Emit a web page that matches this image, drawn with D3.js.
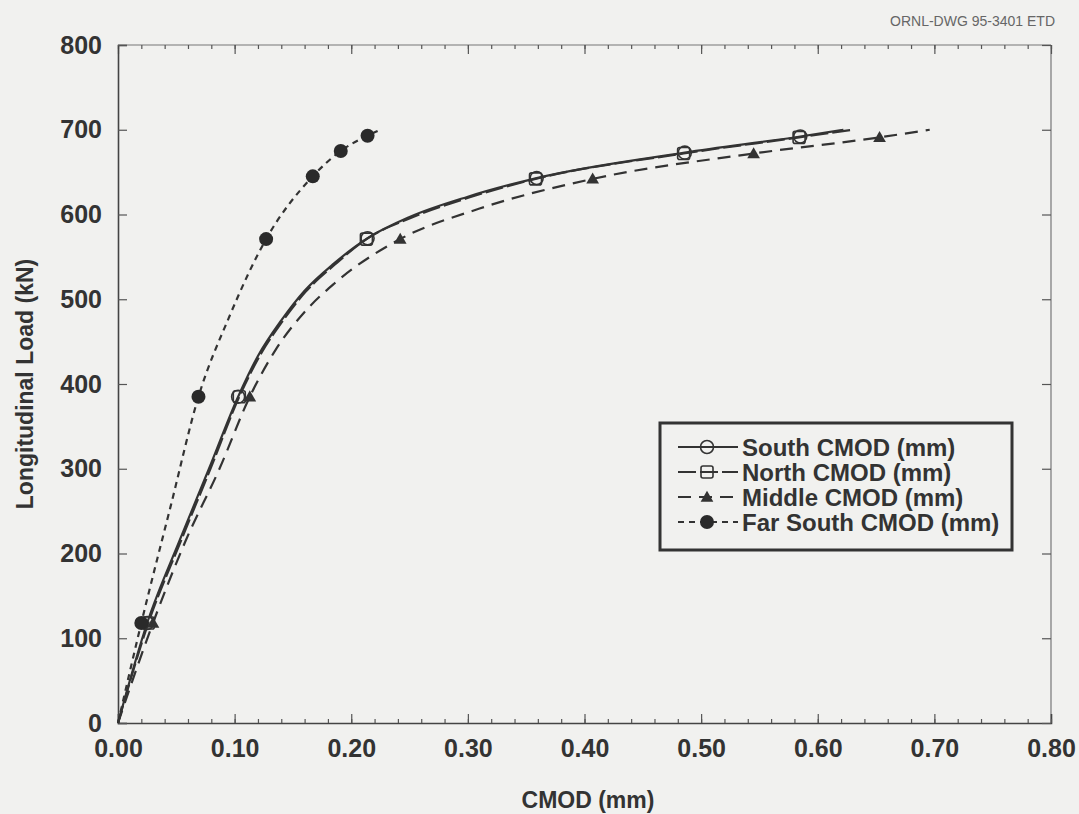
<!DOCTYPE html>
<html>
<head>
<meta charset="utf-8">
<script src="https://cdn.jsdelivr.net/npm/d3@7"></script>
<style>
  body { margin: 0; background: #f1f1ef; }
  svg { display: block; font-family: "Liberation Sans", Arial, sans-serif; }
</style>
</head>
<body>
<div id="chart"></div>
<script>
// marker points: CMOD (mm) vs load (kN)
const southX = [0.025, 0.103, 0.214, 0.359, 0.486, 0.585];
const southY = [118, 385, 572, 643, 673, 692];
const northX = [0.026, 0.104, 0.213, 0.358, 0.485, 0.584];
const northY = [118, 385, 571, 642, 672, 691];
const middleX = [0.030, 0.113, 0.242, 0.407, 0.545, 0.653];
const middleY = [118, 385, 571, 642, 672, 691];
const farSouthX = [0.020, 0.069, 0.127, 0.167, 0.191, 0.214];
const farSouthY = [118, 385, 571, 645, 675, 693];

// the fitted curves (origin to where each line stops)
const southCurveX = [0, 0.025, 0.053, 0.078, 0.103, 0.120, 0.140, 0.160, 0.185, 0.214, 0.250, 0.300, 0.359, 0.486, 0.585, 0.622];
const southCurveY = [0, 118, 216, 300, 385, 433, 475, 510, 542, 572, 597, 621, 643, 673, 692, 700];
const northCurveX = [0, 0.026, 0.054, 0.079, 0.104, 0.121, 0.141, 0.161, 0.186, 0.213, 0.251, 0.301, 0.358, 0.485, 0.584, 0.630];
const northCurveY = [0, 118, 215, 299, 385, 432, 474, 509, 541, 571, 596, 620, 642, 672, 691, 700];
const middleCurveX = [0, 0.030, 0.058, 0.087, 0.113, 0.135, 0.160, 0.185, 0.242, 0.310, 0.407, 0.545, 0.653, 0.696];
const middleCurveY = [0, 118, 215, 300, 385, 440, 485, 518, 571, 607, 642, 672, 691, 700];
const farSouthCurveX = [0, 0.020, 0.045, 0.069, 0.095, 0.127, 0.167, 0.191, 0.214, 0.225];
const farSouthCurveY = [0, 118, 255, 385, 478, 571, 645, 675, 693, 700];

const legendLabels = ["South CMOD (mm)", "North CMOD (mm)", "Middle CMOD (mm)", "Far South CMOD (mm)"];
const xTicks = [0, 0.1, 0.2, 0.3, 0.4, 0.5, 0.6, 0.7, 0.8];
const xMinorTicks = d3.range(0, 0.801, 0.02);
const yTicks = [0, 100, 200, 300, 400, 500, 600, 700, 800];

const width = 1079, height = 814;
const margin = { left: 118, right: 28, top: 45, bottom: 91 };
const ink = "#333";
const bg = "#f1f1ef";

const svg = d3.select("#chart").append("svg")
  .attr("width", width)
  .attr("height", height);

svg.append("rect").attr("width", width).attr("height", height).attr("fill", bg);

const x = d3.scaleLinear().domain([0, 0.8]).range([margin.left, width - margin.right]);
const y = d3.scaleLinear().domain([0, 800]).range([height - margin.bottom, margin.top]);

// frame: top and right sides are lighter in the scan
svg.append("line")
  .attr("x1", x(0)).attr("x2", x(0.8)).attr("y1", y(800)).attr("y2", y(800))
  .attr("stroke", "#777").attr("stroke-width", 1.2);
svg.append("line")
  .attr("x1", x(0.8)).attr("x2", x(0.8)).attr("y1", y(800)).attr("y2", y(0))
  .attr("stroke", "#777").attr("stroke-width", 1.2);

// bottom axis, ticks pointing in
const gX = svg.append("g")
  .attr("transform", "translate(0," + y(0) + ")")
  .call(d3.axisBottom(x).tickValues(xTicks).tickSize(-9).tickPadding(16).tickFormat(d3.format(".2f")));
svg.append("g")
  .attr("transform", "translate(0," + y(0) + ")")
  .call(d3.axisBottom(x).tickValues(xMinorTicks).tickSize(-4).tickFormat(""))
  .call(g => g.select(".domain").remove());

// top axis ticks (no labels)
svg.append("g")
  .attr("transform", "translate(0," + y(800) + ")")
  .call(d3.axisTop(x).tickValues(xTicks).tickSize(-9).tickFormat(""))
  .call(g => g.select(".domain").remove());
svg.append("g")
  .attr("transform", "translate(0," + y(800) + ")")
  .call(d3.axisTop(x).tickValues(xMinorTicks).tickSize(-4).tickFormat(""))
  .call(g => g.select(".domain").remove());

// left axis
const gY = svg.append("g")
  .attr("transform", "translate(" + x(0) + ",0)")
  .call(d3.axisLeft(y).tickValues(yTicks).tickSize(-9).tickPadding(16));

// right axis ticks
svg.append("g")
  .attr("transform", "translate(" + x(0.8) + ",0)")
  .call(d3.axisRight(y).tickValues(yTicks).tickSize(-9).tickFormat(""))
  .call(g => g.select(".domain").remove());

svg.selectAll(".tick line").attr("stroke", "#555").attr("stroke-width", 1.2);
[gX, gY].forEach(g => {
  g.select(".domain").attr("stroke", "#444").attr("stroke-width", 1.6);
  g.selectAll("text")
    .attr("fill", ink)
    .style("font-size", "25px")
    .style("font-weight", "bold");
});
gX.selectAll(".tick").filter(d => d === 0.8).select("line").remove();

// axis titles
svg.append("text")
  .attr("x", 588).attr("y", 808)
  .attr("text-anchor", "middle")
  .attr("fill", ink)
  .style("font-size", "23px").style("font-weight", "bold")
  .text("CMOD (mm)");

svg.append("text")
  .attr("transform", "translate(33," + 384 + ") rotate(-90)")
  .attr("text-anchor", "middle")
  .attr("fill", ink)
  .style("font-size", "23px").style("font-weight", "bold")
  .text("Longitudinal Load (kN)");

svg.append("text")
  .attr("x", 1055).attr("y", 26)
  .attr("text-anchor", "end")
  .attr("fill", "#666")
  .style("font-size", "14px")
  .text("ORNL-DWG 95-3401 ETD");

// series
const series = [
  { cx: southCurveX, cy: southCurveY, mx: southX, my: southY, dash: null, marker: "circle" },
  { cx: northCurveX, cy: northCurveY, mx: northX, my: northY, dash: "18,4", marker: "square" },
  { cx: middleCurveX, cy: middleCurveY, mx: middleX, my: middleY, dash: "13,8", marker: "triangle" },
  { cx: farSouthCurveX, cy: farSouthCurveY, mx: farSouthX, my: farSouthY, dash: "6,5", marker: "dot" }
];

const line = d3.line()
  .x(d => x(d[0]))
  .y(d => y(d[1]))
  .curve(d3.curveMonotoneX);

function drawMarker(g, type, px, py) {
  if (type === "circle") {
    g.append("circle").attr("cx", px).attr("cy", py).attr("r", 6.5)
      .attr("fill", "none").attr("stroke", ink).attr("stroke-width", 1.6);
  } else if (type === "square") {
    g.append("rect").attr("x", px - 6).attr("y", py - 6).attr("width", 12).attr("height", 12)
      .attr("rx", 2).attr("fill", "none").attr("stroke", ink).attr("stroke-width", 1.6);
  } else if (type === "triangle") {
    g.append("path")
      .attr("d", d3.symbol().type(d3.symbolTriangle).size(70)())
      .attr("transform", "translate(" + px + "," + (py + 1) + ")")
      .attr("fill", ink);
  } else {
    g.append("circle").attr("cx", px).attr("cy", py).attr("r", 7)
      .attr("fill", "#2a2a2a");
  }
}

const plot = svg.append("g");
series.forEach(s => {
  plot.append("path")
    .datum(s.cx.map((v, i) => [v, s.cy[i]]))
    .attr("d", line)
    .attr("fill", "none")
    .attr("stroke", ink)
    .attr("stroke-width", 2.2)
    .attr("stroke-dasharray", s.dash);
});
series.forEach(s => {
  s.mx.forEach((v, i) => drawMarker(plot, s.marker, x(v), y(s.my[i])));
});

// legend
const legend = svg.append("g");
legend.append("rect")
  .attr("x", 660).attr("y", 423).attr("width", 352).attr("height", 127)
  .attr("fill", bg).attr("stroke", "#333").attr("stroke-width", 3);

series.forEach((s, i) => {
  const ly = 447 + i * 25;
  legend.append("line")
    .attr("x1", 678).attr("x2", 738).attr("y1", ly).attr("y2", ly)
    .attr("stroke", ink).attr("stroke-width", 2)
    .attr("stroke-dasharray", s.dash);
  drawMarker(legend, s.marker, 707, ly);
  legend.append("text")
    .attr("x", 742).attr("y", ly)
    .attr("dy", "0.36em")
    .attr("fill", ink)
    .style("font-size", "24px").style("font-weight", "bold")
    .text(legendLabels[i]);
});
</script>
</body>
</html>
